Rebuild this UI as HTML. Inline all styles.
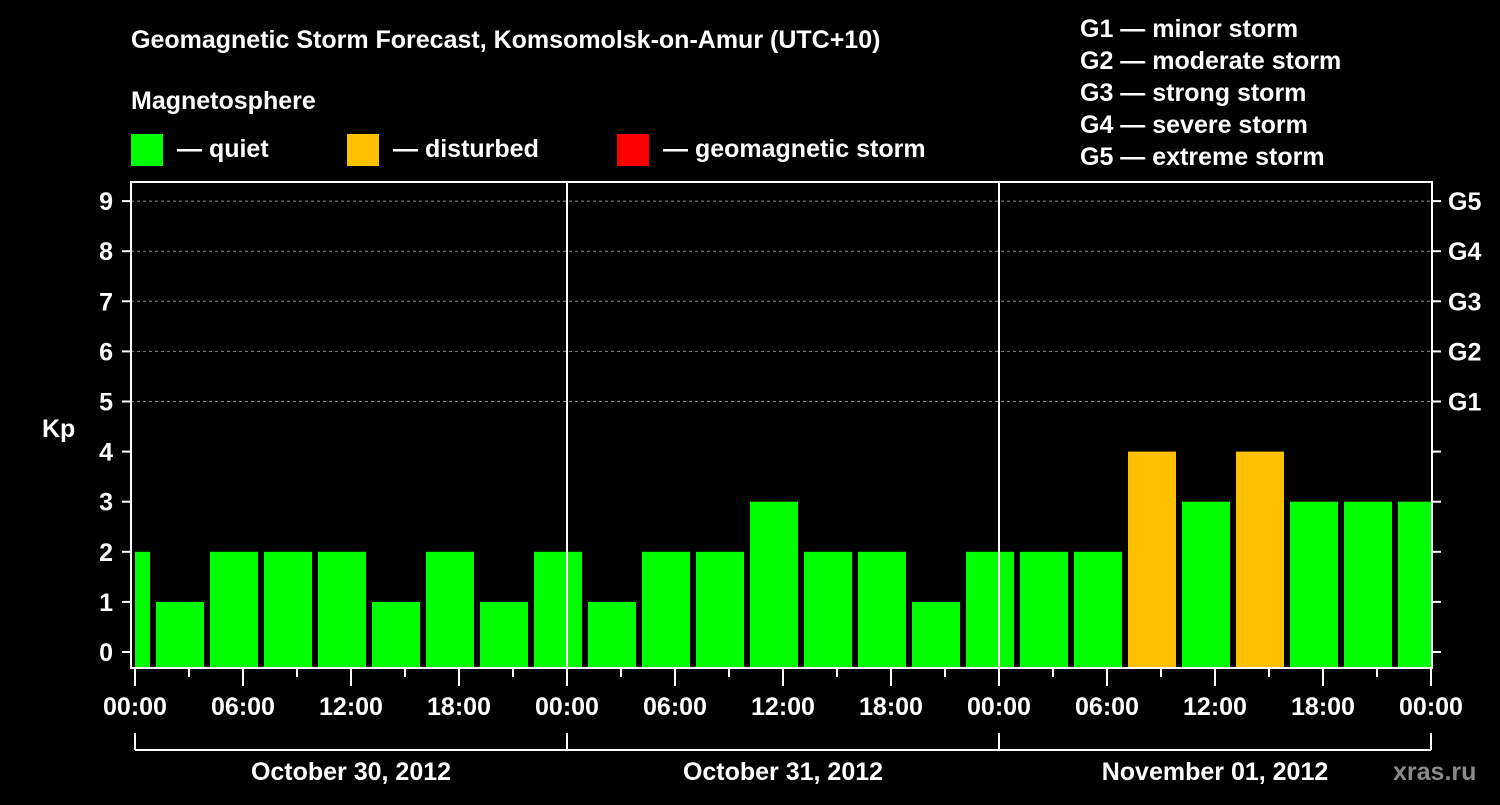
<!DOCTYPE html>
<html><head><meta charset="utf-8"><style>
body{margin:0;background:#000;width:1500px;height:800px;overflow:hidden}
svg text{font-family:"Liberation Sans",sans-serif;font-weight:bold;fill:#fff}
</style></head><body>
<svg id="c" width="1500" height="800">
<text x="131" y="48" font-size="25">Geomagnetic Storm Forecast, Komsomolsk-on-Amur (UTC+10)</text>
<text x="131" y="109" font-size="25">Magnetosphere</text>
<rect x="131" y="134" width="32" height="32" fill="#00ff00"/>
<text x="177" y="157" font-size="25">— quiet</text>
<rect x="347" y="134" width="32" height="32" fill="#ffc000"/>
<text x="393" y="157" font-size="25">— disturbed</text>
<rect x="617" y="134" width="32" height="32" fill="#ff0000"/>
<text x="663" y="157" font-size="25">— geomagnetic storm</text>
<g font-size="25">
<text x="1080" y="37">G1 — minor storm</text>
<text x="1080" y="69">G2 — moderate storm</text>
<text x="1080" y="101">G3 — strong storm</text>
<text x="1080" y="133">G4 — severe storm</text>
<text x="1080" y="165">G5 — extreme storm</text>
</g>
<text x="42" y="437" font-size="25">Kp</text>
<text x="1393" y="780" font-size="25" fill="#888" style="fill:#8a8a8a">xras.ru</text>
<g id="plot"></g>
</svg>
<script>
const kpValues=[2,1,2,2,2,1,2,1,2, 1,2,2,3,2,2,1,2, 2,2,4,3,4,3,3,3];
const startHour=-0.5;
const dayLabels=["October 30, 2012","October 31, 2012","November 01, 2012"];
const hourLabels=["00:00","06:00","12:00","18:00"];
const gLabels=["G1","G2","G3","G4","G5"];
const NS="http://www.w3.org/2000/svg";
const L=131,R=1432,T=182,B=668,X0=135,PXH=18;
const x=h=>X0+h*PXH, y=v=>652-v*50.1;
const g=document.getElementById('plot');
function mk(t,a,p){const e=document.createElementNS(NS,t);for(const k in a)e.setAttribute(k,a[k]);(p||g).appendChild(e);return e;}
const defs=mk('defs',{});const cp=mk('clipPath',{id:'cp'},defs);mk('rect',{x:X0,y:T,width:x(72)-X0,height:B-T},cp);
const bars=mk('g',{'clip-path':'url(#cp)'});


kpValues.forEach((v,i)=>{const c=startHour+3*i;
 const r=mk('rect',{x:x(c)-24,y:y(v),width:48,height:B-y(v),fill:v>=5?'#ff0000':v>=4?'#ffc000':'#00ff00'},bars);
 
 });
for(let v=5;v<=9;v++){const l=mk('line',{x1:L,x2:R,y1:y(v),y2:y(v),stroke:'#888','stroke-dasharray':'3,3','stroke-width':1});
 
 }
for(let d=1;d<3;d++){const l=mk('line',{x1:x(24*d),x2:x(24*d),y1:T,y2:B,stroke:'#fff','stroke-width':2});
 
 }
const fr=mk('rect',{x:L,y:T,width:R-L,height:B-T,fill:'none',stroke:'#fff','stroke-width':2});


for(let v=0;v<=9;v++){
 mk('line',{x1:122,x2:L,y1:y(v),y2:y(v),stroke:'#fff','stroke-width':2});
 mk('line',{x1:R,x2:1441,y1:y(v),y2:y(v),stroke:'#fff','stroke-width':2});
 const t=mk('text',{x:113,y:y(v)+9,'font-size':25,'text-anchor':'end'});t.textContent=v;
 
 }
gLabels.forEach((s,i)=>{const t=mk('text',{x:1448,y:y(5+i)+9,'font-size':25});t.textContent=s;
 
 });
for(let h=0;h<=72;h+=3){const maj=h%6===0;
 mk('line',{x1:x(h),x2:x(h),y1:B,y2:maj?686:677,stroke:'#fff','stroke-width':2});
 if(maj){const t=mk('text',{x:x(h),y:715,'font-size':25,'text-anchor':'middle'});t.textContent=hourLabels[(h/6)%4];
 
 }}
mk('line',{x1:x(0),x2:x(72),y1:750,y2:750,stroke:'#fff','stroke-width':2});
for(let d=0;d<=3;d++)mk('line',{x1:x(24*d),x2:x(24*d),y1:733,y2:750,stroke:'#fff','stroke-width':2});
dayLabels.forEach((s,i)=>{const t=mk('text',{x:x(24*i+12),y:780,'font-size':25,'text-anchor':'middle'});t.textContent=s;
 
 });
</script>
</body></html>
